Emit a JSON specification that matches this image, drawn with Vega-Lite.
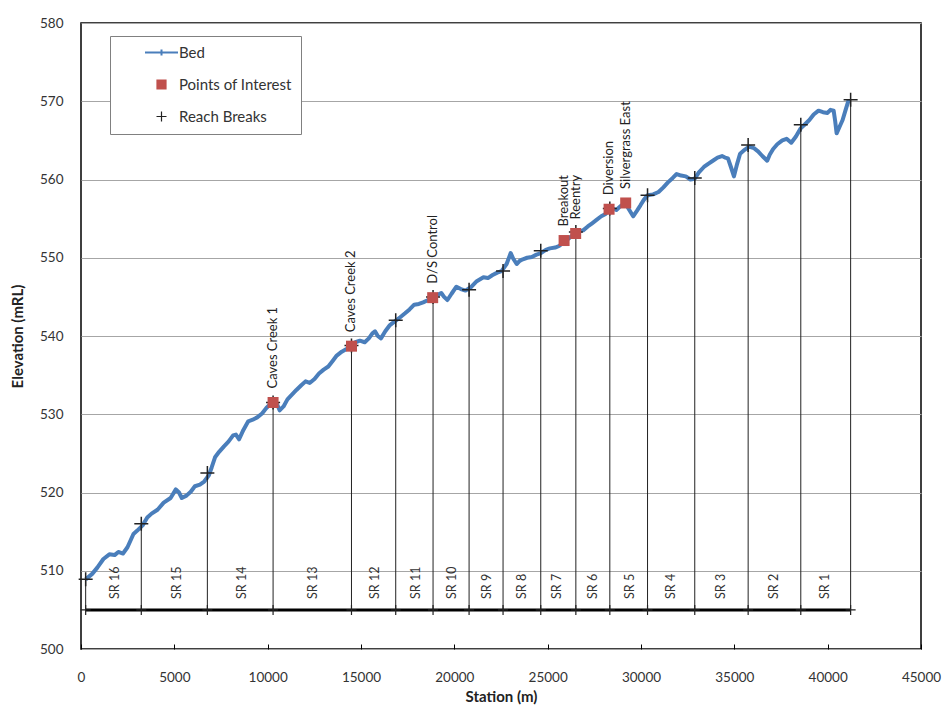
{
  "$schema": "https://vega.github.io/schema/vega-lite/v6.json",
  "width": 840,
  "height": 626,
  "autosize": {"type": "none"},
  "padding": {"left": 81, "top": 23, "right": 28, "bottom": 61},
  "background": "white",
  "config": {
    "font": "Lato",
    "view": {"stroke": "#000", "strokeWidth": 1.5},
    "axis": {"labelFont": "Lato", "titleFont": "Lato", "labelColor": "#333", "titleColor": "#222"}
  },
  "datasets": {
    "bed": [
      {"s":250,"e":508.9},{"s":600,"e":509.6},{"s":873,"e":510.4},{"s":1200,"e":511.5},{"s":1520,"e":512.1},{"s":1800,"e":512.0},{"s":2000,"e":512.4},{"s":2250,"e":512.2},{"s":2490,"e":513.0},{"s":2810,"e":514.7},{"s":3000,"e":515.1},{"s":3300,"e":515.8},{"s":3550,"e":516.8},{"s":3780,"e":517.3},{"s":4100,"e":517.8},{"s":4430,"e":518.7},{"s":4800,"e":519.3},{"s":5080,"e":520.4},{"s":5250,"e":520.0},{"s":5400,"e":519.3},{"s":5650,"e":519.6},{"s":5880,"e":520.1},{"s":6100,"e":520.8},{"s":6370,"e":521.0},{"s":6600,"e":521.4},{"s":6850,"e":522.2},{"s":7000,"e":523.2},{"s":7180,"e":524.5},{"s":7400,"e":525.2},{"s":7660,"e":525.9},{"s":7900,"e":526.5},{"s":8150,"e":527.3},{"s":8300,"e":527.4},{"s":8470,"e":526.8},{"s":8700,"e":528.0},{"s":8960,"e":529.1},{"s":9200,"e":529.3},{"s":9440,"e":529.6},{"s":9700,"e":530.1},{"s":9930,"e":530.8},{"s":10310,"e":531.7},{"s":10500,"e":531.3},{"s":10640,"e":530.5},{"s":10850,"e":531.0},{"s":11060,"e":531.9},{"s":11300,"e":532.5},{"s":11540,"e":533.1},{"s":11800,"e":533.7},{"s":12030,"e":534.2},{"s":12250,"e":534.0},{"s":12510,"e":534.5},{"s":12750,"e":535.2},{"s":13000,"e":535.7},{"s":13250,"e":536.1},{"s":13480,"e":536.8},{"s":13700,"e":537.5},{"s":13970,"e":538.0},{"s":14200,"e":538.3},{"s":14450,"e":538.7},{"s":14700,"e":539.2},{"s":14940,"e":539.4},{"s":15200,"e":539.2},{"s":15420,"e":539.7},{"s":15600,"e":540.3},{"s":15750,"e":540.6},{"s":15900,"e":540.0},{"s":16070,"e":539.7},{"s":16300,"e":540.6},{"s":16550,"e":541.4},{"s":16880,"e":542.0},{"s":17100,"e":542.4},{"s":17360,"e":542.9},{"s":17600,"e":543.4},{"s":17850,"e":544.0},{"s":18100,"e":544.1},{"s":18330,"e":544.3},{"s":18600,"e":544.6},{"s":18820,"e":544.9},{"s":19050,"e":545.2},{"s":19300,"e":545.5},{"s":19450,"e":545.0},{"s":19630,"e":544.6},{"s":19850,"e":545.4},{"s":20110,"e":546.3},{"s":20350,"e":546.0},{"s":20600,"e":545.8},{"s":20920,"e":546.3},{"s":21200,"e":547.0},{"s":21560,"e":547.5},{"s":21800,"e":547.4},{"s":22050,"e":547.8},{"s":22300,"e":548.1},{"s":22530,"e":548.3},{"s":22800,"e":549.2},{"s":23020,"e":550.6},{"s":23150,"e":549.9},{"s":23340,"e":549.2},{"s":23500,"e":549.6},{"s":23670,"e":549.8},{"s":23900,"e":550.0},{"s":24150,"e":550.1},{"s":24400,"e":550.4},{"s":24640,"e":550.6},{"s":24900,"e":551.0},{"s":25120,"e":551.2},{"s":25400,"e":551.3},{"s":25610,"e":551.5},{"s":25930,"e":552.1},{"s":26200,"e":552.6},{"s":26480,"e":553.1},{"s":26700,"e":553.4},{"s":26900,"e":553.5},{"s":27150,"e":554.0},{"s":27380,"e":554.4},{"s":27600,"e":554.8},{"s":27870,"e":555.3},{"s":28100,"e":555.6},{"s":28290,"e":556.2},{"s":28500,"e":556.3},{"s":28680,"e":556.1},{"s":28900,"e":556.6},{"s":29160,"e":557.0},{"s":29350,"e":556.2},{"s":29580,"e":555.3},{"s":29780,"e":556.0},{"s":29970,"e":556.7},{"s":30150,"e":557.4},{"s":30360,"e":558.0},{"s":30650,"e":558.1},{"s":30940,"e":558.4},{"s":31200,"e":559.0},{"s":31430,"e":559.6},{"s":31700,"e":560.2},{"s":31910,"e":560.7},{"s":32150,"e":560.5},{"s":32400,"e":560.4},{"s":32650,"e":560.0},{"s":32880,"e":560.1},{"s":33100,"e":560.9},{"s":33370,"e":561.6},{"s":33600,"e":562.0},{"s":33850,"e":562.4},{"s":34100,"e":562.8},{"s":34340,"e":563.0},{"s":34500,"e":562.8},{"s":34660,"e":562.7},{"s":34830,"e":561.5},{"s":34980,"e":560.4},{"s":35150,"e":562.0},{"s":35310,"e":563.3},{"s":35550,"e":563.8},{"s":35790,"e":564.2},{"s":36050,"e":564.0},{"s":36270,"e":563.6},{"s":36500,"e":563.0},{"s":36760,"e":562.4},{"s":36900,"e":563.2},{"s":37080,"e":563.9},{"s":37300,"e":564.5},{"s":37570,"e":565.0},{"s":37800,"e":565.2},{"s":38050,"e":564.7},{"s":38300,"e":565.5},{"s":38540,"e":566.5},{"s":38800,"e":567.1},{"s":39020,"e":567.6},{"s":39250,"e":568.3},{"s":39510,"e":568.8},{"s":39750,"e":568.6},{"s":39990,"e":568.5},{"s":40150,"e":568.9},{"s":40320,"e":568.8},{"s":40400,"e":567.5},{"s":40480,"e":565.9},{"s":40650,"e":566.8},{"s":40800,"e":567.6},{"s":40950,"e":568.8},{"s":41130,"e":570.2}
    ],
    "breaks": [
      {"s":250,"e":508.9},{"s":3230,"e":516.0},{"s":6770,"e":522.5},{"s":10290,"e":531.5},{"s":14490,"e":538.8},{"s":16860,"e":542.0},{"s":18860,"e":545.0},{"s":20790,"e":545.9},{"s":22610,"e":548.3},{"s":24630,"e":550.9},{"s":26510,"e":553.3},{"s":28330,"e":556.3},{"s":30350,"e":558.0},{"s":32880,"e":560.2},{"s":35740,"e":564.4},{"s":38560,"e":567.0},{"s":41230,"e":570.2}
    ],
    "poi": [
      {"name":"Caves Creek 1","s":10290,"e":531.5},{"name":"Caves Creek 2","s":14490,"e":538.7},{"name":"D/S Control","s":18840,"e":544.9},{"name":"Breakout","s":25880,"e":552.2},{"name":"Reentry","s":26500,"e":553.1},{"name":"Diversion","s":28290,"e":556.2},{"name":"Silvergrass East","s":29180,"e":557.0}
    ],
    "reaches": [
      {"name":"SR 16","s":1840},{"name":"SR 15","s":5140},{"name":"SR 14","s":8630},{"name":"SR 13","s":12420},{"name":"SR 12","s":15750},{"name":"SR 11","s":17940},{"name":"SR 10","s":19850},{"name":"SR 9","s":21760},{"name":"SR 8","s":23630},{"name":"SR 7","s":25510},{"name":"SR 6","s":27450},{"name":"SR 5","s":29390},{"name":"SR 4","s":31590},{"name":"SR 3","s":34300},{"name":"SR 2","s":37120},{"name":"SR 1","s":39860}
    ]
  },
  "layer": [
    {
      "data": {"name": "bed"},
      "mark": {"type": "line", "strokeWidth": 4, "strokeJoin": "round"},
      "encoding": {
        "x": {"field": "s", "type": "quantitative", "title": "Station (m)",
          "scale": {"domain": [0, 45000], "nice": false, "zero": false},
          "axis": {"values": [0,5000,10000,15000,20000,25000,30000,35000,40000,45000], "format": "d", "grid": false, "domain": false,
            "ticks": true, "tickSize": -5, "tickColor": "#000", "tickWidth": 1, "labelFlush": false, "labelOverlap": false,
            "labelFontSize": 13.5, "labelPadding": 26, "titleFontSize": 15, "titleFontWeight": "bold", "titlePadding": 6}},
        "y": {"field": "e", "type": "quantitative", "title": "Elevation (mRL)",
          "scale": {"domain": [500, 580], "nice": false, "zero": false},
          "axis": {"values": [500,510,520,530,540,550,560,570,580], "grid": true, "gridColor": "#a6a6a6", "gridWidth": 1, "domain": false,
            "ticks": false, "labelFontSize": 13.5, "labelPadding": 18, "titleFontSize": 15, "titleFontWeight": "bold", "titlePadding": 14}},
        "color": {"datum": "Bed", "type": "nominal",
          "scale": {"domain": ["Bed", "Points of Interest", "Reach Breaks"], "range": ["#4A7EBB", "#C0504D", "#222222"]},
          "legend": {"orient": "none", "legendX": 29, "legendY": 13, "title": null, "strokeColor": "#808080",
            "fillColor": "white", "padding": 9, "symbolSize": 100, "symbolOffset": 35, "labelOffset": 10, "rowPadding": 16,
            "labelFontSize": 15, "labelFont": "Lato", "labelColor": "#333",
            "encode": {"symbols": {"update": {
              "shape": {"signal": "datum.value === 'Bed' ? 'M-3.3,0H3.3M0,-0.6V0.6' : datum.value === 'Points of Interest' ? 'M-0.9,-0.9H0.9V0.9H-0.9Z' : 'M-1,0H1M0,-1V1'"},
              "fill": {"signal": "datum.value === 'Points of Interest' ? '#C0504D' : 'transparent'"},
              "stroke": {"signal": "datum.value === 'Bed' ? '#4A7EBB' : datum.value === 'Points of Interest' ? '#C0504D' : '#222222'"},
              "strokeWidth": {"signal": "datum.value === 'Bed' ? 2 : 1.2"}
            }}}}
        }
      }
    },
    {
      "data": {"name": "breaks"},
      "mark": {"type": "rule", "color": "#222", "strokeWidth": 1},
      "encoding": {
        "x": {"field": "s", "type": "quantitative", "title": "Station (m)"},
        "y": {"field": "e", "type": "quantitative", "title": "Elevation (mRL)"},
        "y2": {"datum": 505}
      }
    },
    {
      "data": {"name": "breaks"},
      "mark": {"type": "line", "color": "#000", "strokeWidth": 3},
      "encoding": {
        "x": {"field": "s", "type": "quantitative", "title": "Station (m)"},
        "y": {"datum": 505, "type": "quantitative"}
      }
    },
    {
      "data": {"name": "breaks"},
      "mark": {"type": "point", "shape": "M-1,0H1M0,-1V1", "filled": false, "size": 100, "color": "#222", "strokeWidth": 1.2, "opacity": 1},
      "encoding": {
        "x": {"field": "s", "type": "quantitative", "title": "Station (m)"},
        "y": {"datum": 505, "type": "quantitative"}
      }
    },
    {
      "data": {"name": "breaks"},
      "mark": {"type": "point", "shape": "M-1,0H1M0,-1V1", "filled": false, "size": 196, "strokeWidth": 1.5, "opacity": 1},
      "encoding": {
        "x": {"field": "s", "type": "quantitative", "title": "Station (m)"},
        "y": {"field": "e", "type": "quantitative", "title": "Elevation (mRL)"},
        "color": {"datum": "Reach Breaks", "type": "nominal"}
      }
    },
    {
      "data": {"name": "poi"},
      "mark": {"type": "point", "shape": "square", "filled": true, "size": 121, "opacity": 1},
      "encoding": {
        "x": {"field": "s", "type": "quantitative", "title": "Station (m)"},
        "y": {"field": "e", "type": "quantitative", "title": "Elevation (mRL)"},
        "color": {"datum": "Points of Interest", "type": "nominal"}
      }
    },
    {
      "data": {"name": "poi"},
      "mark": {"type": "text", "angle": 270, "align": "left", "baseline": "middle", "dx": 14, "fontSize": 13, "font": "Lato", "color": "#222"},
      "encoding": {
        "x": {"field": "s", "type": "quantitative", "title": "Station (m)"},
        "y": {"field": "e", "type": "quantitative", "title": "Elevation (mRL)"},
        "text": {"field": "name"}
      }
    },
    {
      "data": {"name": "reaches"},
      "mark": {"type": "text", "angle": 270, "align": "left", "baseline": "middle", "fontSize": 12.5, "font": "Lato", "color": "#333"},
      "encoding": {
        "x": {"field": "s", "type": "quantitative", "title": "Station (m)"},
        "y": {"datum": 506.4, "type": "quantitative"},
        "text": {"field": "name"}
      }
    }
  ]
}
